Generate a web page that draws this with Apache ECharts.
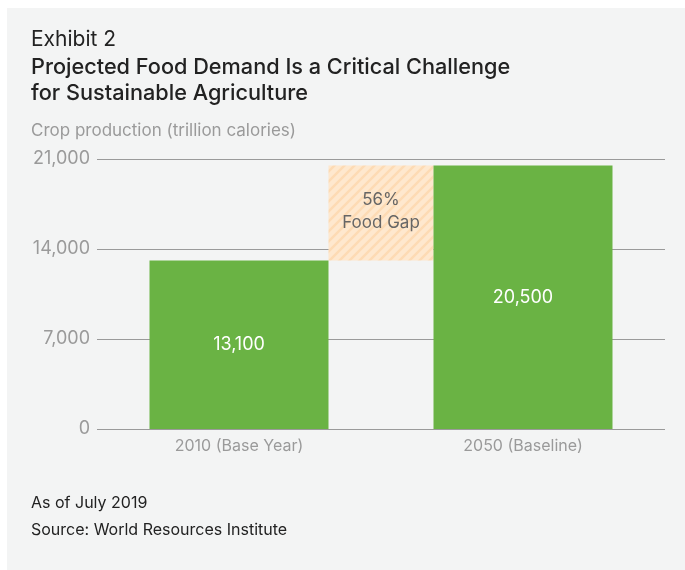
<!DOCTYPE html>
<html>
<head>
<meta charset="utf-8">
<script src="https://cdn.jsdelivr.net/npm/echarts@6/dist/echarts.min.js"></script>
<style>
html,body{margin:0;padding:0;background:#fff;}
#chart{width:685px;height:570px;}
</style>
</head>
<body>
<div id="chart"></div>
<script>
const categories = ["2010 (Base Year)", "", "2050 (Baseline)"];
const categoryPositions = [0, 1, 2];
const cropValues = [13100, 20500];
const gapRange = [13100, 20500];
const gapLabel = ["56%", "Food Gap"];
const yTicks = [0, 7000, 14000, 21000];

const FONT = "Inter, 'Liberation Sans', Arial, sans-serif";
const chart = echarts.init(document.getElementById('chart'));

// stripe pattern for the food-gap block
const tile = document.createElement('canvas');
tile.width = 10; tile.height = 10;
(function () {
  const c = tile.getContext('2d');
  c.fillStyle = '#fee8ce';
  c.fillRect(0, 0, 10, 10);
  c.strokeStyle = '#fddbb4';
  c.lineWidth = 2.5;
  c.beginPath();
  c.moveTo(-2, 12); c.lineTo(12, -2);
  c.moveTo(-7, 7); c.lineTo(7, -7);
  c.moveTo(3, 17); c.lineTo(17, 3);
  c.stroke();
})();

const xAxisBase = {
  type: 'value', min: -1, max: 3, interval: 1,
  axisLine: {show: false}, axisTick: {show: false}, splitLine: {show: false}
};

chart.setOption({
  backgroundColor: '#ffffff',
  animation: false,
  graphic: [
    {type: 'rect', left: 7, top: 8, shape: {width: 678, height: 562}, style: {fill: '#f3f4f4'}, z: -10},
    {type: 'text', left: 31, top: 29, style: {text: 'Exhibit 2', fill: '#222', font: '400 21px ' + FONT}},
    {type: 'text', left: 31, top: 54, style: {text: 'Projected Food Demand Is a Critical Challenge\nfor Sustainable Agriculture', fill: '#222', font: '500 21.7px ' + FONT, lineHeight: 26}},
    {type: 'text', left: 31, top: 122, style: {text: 'Crop production (trillion calories)', fill: '#9a9a9a', font: '400 17px ' + FONT}},
    {type: 'text', left: 31, top: 495, style: {text: 'As of July 2019', fill: '#222', font: '400 16px ' + FONT}},
    {type: 'text', left: 31, top: 522, style: {text: 'Source: World Resources Institute', fill: '#222', font: '400 16px ' + FONT}}
  ],
  grid: {left: 97, right: 20, top: 159, bottom: 141, containLabel: false},
  xAxis: [
    Object.assign({}, xAxisBase, {
      axisLabel: {
        show: true, color: '#9a9a9a', fontSize: 16, fontFamily: FONT, margin: 9,
        formatter: v => { const i = categoryPositions.indexOf(v); return i >= 0 ? categories[i] : ''; }
      }
    })
  ],
  yAxis: {
    type: 'value', min: yTicks[0], max: yTicks[yTicks.length - 1], interval: yTicks[1] - yTicks[0],
    axisLine: {show: false}, axisTick: {show: false},
    splitLine: {lineStyle: {color: '#9a9a9a', width: 1}},
    axisLabel: {color: '#9a9a9a', fontSize: 18, fontFamily: FONT, margin: 7,
      formatter: v => v.toLocaleString('en-US')}
  },
  series: [
    {
      type: 'bar', barWidth: 179,
      data: [[categoryPositions[0], cropValues[0]], [categoryPositions[2], cropValues[1]]],
      itemStyle: {color: '#6ab344'},
      label: {show: true, position: 'inside', color: '#fff', fontSize: 18, fontFamily: FONT,
        formatter: p => p.value[1].toLocaleString('en-US')}
    },
    {
      type: 'custom',
      data: [[categoryPositions[1], gapRange[0], gapRange[1]]],
      encode: {x: 0, y: [1, 2]},
      renderItem: function (params, api) {
        const x = api.value(0);
        const p0 = api.coord([x, api.value(1)]);
        const p1 = api.coord([x, api.value(2)]);
        const w = 105;
        return {
          type: 'group',
          children: [
            {type: 'rect', shape: {x: p0[0] - w / 2, y: p1[1], width: w, height: p0[1] - p1[1]},
              style: {fill: {image: tile, repeat: 'repeat'}}},
            {type: 'text', style: {text: gapLabel.join('\n'), x: p0[0], y: (p0[1] + p1[1]) / 2 - 2,
              align: 'center', verticalAlign: 'middle', fill: '#666', font: '400 17px ' + FONT, lineHeight: 23}}
          ]
        };
      }
    }
  ]
});
</script>
</body>
</html>
